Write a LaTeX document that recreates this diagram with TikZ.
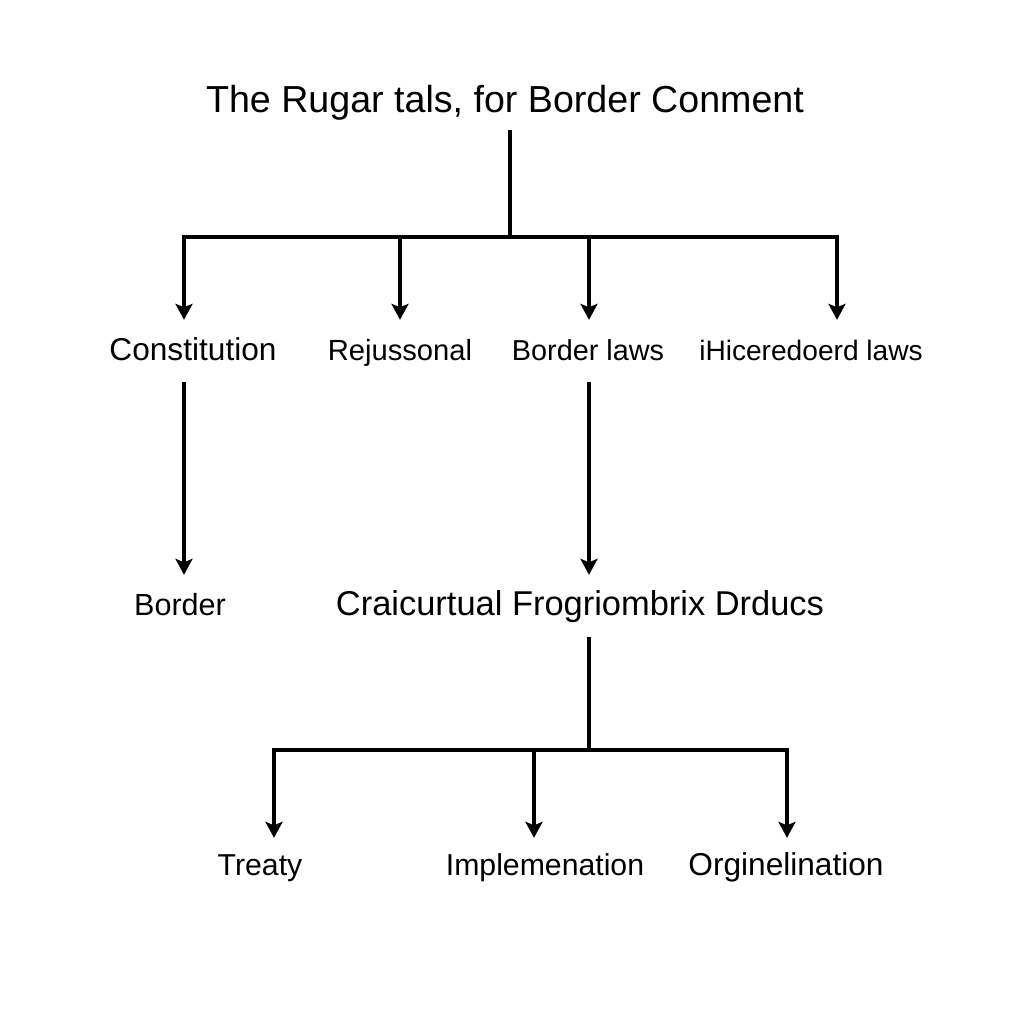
\documentclass[tikz,border=0pt]{standalone}
\usepackage{fontspec}
\setmainfont{Liberation Sans}
\usetikzlibrary{arrows.meta}

\begin{document}
\begin{tikzpicture}[->,>={Stealth[length=1.6mm,width=1.7mm,inset=0.35mm]},line width=1.2pt,
        lbl/.style={inner sep=0.12cm,text height=0.75em,text depth=0.22em,font=\fontsize{8.6pt}{10pt}\selectfont}]
                \useasboundingbox[fill=white] (0,0) rectangle (10.24,-10.24);
                \node[lbl,inner sep=0.08cm,font=\fontsize{10.7pt}{12pt}\selectfont](Title)at(5.05,-1.03){The Rugar tals, for Border Conment};
                % second row
                \node[lbl,font=\fontsize{9pt}{11pt}\selectfont](Const)at(1.93,-3.51){Constitution};
                \node[lbl,font=\fontsize{8.3pt}{10pt}\selectfont](Rejus)at(4.00,-3.51){Rejussonal};
                \node[lbl,font=\fontsize{8.2pt}{10pt}\selectfont](Laws)at(5.88,-3.51){Border laws};
                \node[lbl,font=\fontsize{8pt}{10pt}\selectfont](Hicer)at(8.11,-3.51){iHiceredoerd laws};
                % third row
                \node[lbl,font=\fontsize{8.7pt}{10pt}\selectfont](Border)at(1.80,-6.06){Border};
                \node[lbl,font=\fontsize{9.8pt}{11pt}\selectfont](Craic)at(5.80,-6.06){Craicurtual Frogriombrix Drducs};
                % fourth row
                \node[lbl,inner sep=0.09cm](Treaty)at(2.60,-8.66){Treaty};
                \node[lbl,inner sep=0.09cm](Implem)at(5.45,-8.66){Implemenation};
                \node[lbl,inner sep=0.09cm,font=\fontsize{9pt}{11pt}\selectfont](Orgin)at(7.86,-8.66){Orginelination};
                % branch points
                \coordinate(top)at(5.10,-2.37);
                \coordinate(b1)at(1.84,-2.37);
                \coordinate(b2)at(4.00,-2.37);
                \coordinate(b3)at(5.89,-2.37);
                \coordinate(b4)at(8.37,-2.37);
                \coordinate(low)at(5.89,-7.50);
                \coordinate(c1)at(2.74,-7.50);
                \coordinate(c2)at(5.34,-7.50);
                \coordinate(c3)at(7.87,-7.50);
                \draw[-](Title.south -| top) -- (top);
                \draw(b2) -- (b1) -- (b1 |- Const.north);
                \draw(b3) -- (b4) -- (b4 |- Hicer.north);
                \draw[-](b2) -- (b3);
                \draw(b2) -- (b2 |- Rejus.north);
                \draw(b3) -- (b3 |- Laws.north);
                \draw(Const.south -| b1) -- (Border.north -| b1);
                \draw(Laws.south -| b3) -- (Craic.north -| b3);
                \draw[-](Craic.south -| low) -- (low);
                \draw(c2) -- (c1) -- (c1 |- Treaty.north);
                \draw(low) -- (c3) -- (c3 |- Orgin.north);
                \draw[-](c2) -- (low);
                \draw(c2) -- (c2 |- Implem.north);
            \end{tikzpicture}
\end{document}
